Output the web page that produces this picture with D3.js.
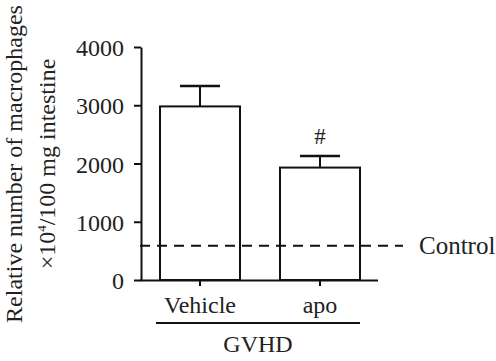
<!DOCTYPE html>
<html>
<head>
<meta charset="utf-8">
<script src="https://cdn.jsdelivr.net/npm/d3@7"></script>
<style>
  body { margin: 0; background: #fff; }
</style>
</head>
<body>
<div id="chart"></div>
<script>
// values
const groups = ["Vehicle", "apo"]
const means = [2980, 1930]
const sems = [350, 200]
const marks = ["", "#"]
const controlLevel = 590
const yTicks = [0, 1000, 2000, 3000, 4000]

const width = 496
const height = 361
const margin = {top: 47, right: 116, bottom: 81, left: 140}
const serif = "'Liberation Serif', 'Times New Roman', Times, serif"

const svg = d3.select("#chart").append("svg")
  .attr("width", width)
  .attr("height", height)
  .attr("font-family", serif)

// scales
const y = d3.scaleLinear()
  .domain([0, 4000])
  .range([height - margin.bottom, margin.top])

const x = d3.scaleBand()
  .domain(groups)
  .range([margin.left, width - margin.right])
  .paddingInner(1/3)
  .paddingOuter(1/6)

// control dashed line
svg.append("line")
  .attr("x1", margin.left)
  .attr("x2", 403)
  .attr("y1", y(controlLevel))
  .attr("y2", y(controlLevel))
  .attr("stroke", "#111")
  .attr("stroke-width", 2)
  .attr("stroke-dasharray", "10,7")

svg.append("text")
  .attr("x", 419)
  .attr("y", y(controlLevel) + 8)
  .attr("font-family", serif)
  .attr("fill", "#222")
  .style("font-size", "25px")
  .text("Control")

const data = groups.map((g, i) => ({group: g, mean: means[i], sem: sems[i], mark: marks[i]}))

// error bars (upper only)
const err = svg.selectAll(".err")
  .data(data)
  .join("g")
    .attr("class", "err")

err.append("line")
  .attr("x1", d => x(d.group) + x.bandwidth() / 2)
  .attr("x2", d => x(d.group) + x.bandwidth() / 2)
  .attr("y1", d => y(d.mean))
  .attr("y2", d => y(d.mean + d.sem))
  .attr("stroke", "#111")
  .attr("stroke-width", 2)

err.append("line")
  .attr("x1", d => x(d.group) + x.bandwidth() / 2 - 20)
  .attr("x2", d => x(d.group) + x.bandwidth() / 2 + 20)
  .attr("y1", d => y(d.mean + d.sem))
  .attr("y2", d => y(d.mean + d.sem))
  .attr("stroke", "#111")
  .attr("stroke-width", 2.5)

// bars
svg.selectAll(".bar")
  .data(data)
  .join("rect")
    .attr("class", "bar")
    .attr("x", d => x(d.group))
    .attr("y", d => y(d.mean))
    .attr("width", x.bandwidth())
    .attr("height", d => y(0) - y(d.mean))
    .attr("fill", "none")
    .attr("stroke", "#111")
    .attr("stroke-width", 2)

// significance marks
svg.selectAll(".mark")
  .data(data)
  .join("text")
    .attr("class", "mark")
    .attr("x", d => x(d.group) + x.bandwidth() / 2)
    .attr("y", d => y(d.mean + d.sem) - 12)
    .attr("text-anchor", "middle")
    .attr("font-family", serif)
    .attr("fill", "#222")
    .style("font-size", "23px")
    .text(d => d.mark)

// y axis
const yAxis = svg.append("g")
  .attr("transform", `translate(${margin.left + 1}, 0)`)
  .call(d3.axisLeft(y).tickValues(yTicks).tickFormat(d3.format("d")).tickSize(7).tickPadding(10).tickSizeOuter(0))
yAxis.attr("font-family", serif).attr("font-size", null)
yAxis.selectAll("path, line").attr("stroke", "#111").attr("stroke-width", 2)
yAxis.selectAll("text").attr("fill", "#222").style("font-size", "24px").attr("dy", "0.36em")

// x axis
const xAxis = svg.append("g")
  .attr("transform", `translate(0, ${y(0)})`)
  .call(d3.axisBottom(x).tickSize(6).tickPadding(10).tickSizeOuter(0))
xAxis.attr("font-family", serif).attr("font-size", null)
xAxis.select(".domain").attr("d", `M${margin.left},0.5H378`)
xAxis.selectAll("path, line").attr("stroke", "#111").attr("stroke-width", 2)
xAxis.selectAll("text").attr("fill", "#222").style("font-size", "24px")

// group bracket
svg.append("line")
  .attr("x1", 156)
  .attr("x2", 360)
  .attr("y1", 323)
  .attr("y2", 323)
  .attr("stroke", "#111")
  .attr("stroke-width", 2)

svg.append("text")
  .attr("x", 258)
  .attr("y", 352)
  .attr("text-anchor", "middle")
  .attr("font-family", serif)
  .attr("fill", "#222")
  .style("font-size", "24px")
  .text("GVHD")

// y title, two lines
const yTitle = svg.append("text")
  .attr("transform", "translate(0, 164) rotate(-90)")
  .attr("text-anchor", "middle")
  .attr("font-family", serif)
  .attr("fill", "#222")
  .style("font-size", "24px")

yTitle.append("tspan")
  .attr("x", 0)
  .attr("y", 22)
  .text("Relative number of macrophages")

const line2 = yTitle.append("tspan")
  .attr("x", 0)
  .attr("y", 55)
line2.append("tspan").text("×10")
line2.append("tspan").attr("dy", -9).style("font-size", "13px").text("4")
line2.append("tspan").attr("dy", 9).text("/100 mg intestine")
</script>
</body>
</html>
